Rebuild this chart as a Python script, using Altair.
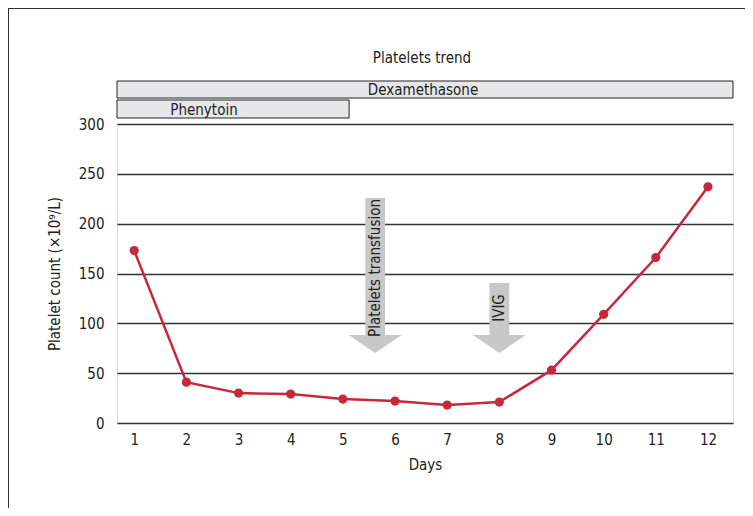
import altair as alt
import pandas as pd

days = [1, 2, 3, 4, 5, 6, 7, 8, 9, 10, 11, 12]
platelets = [173, 41, 30, 29, 24, 22, 18, 21, 53, 109, 166, 237]

drug_names = ["Dexamethasone", "Phenytoin"]
drug_start = [0.67, 0.67]
drug_end = [12.48, 5.12]

event_names = ["Platelets transfusion", "IVIG"]
event_day = [5.62, 8.0]

FONT = "DejaVu Sans Condensed, sans-serif"
FS = 15
RED = "#c8283c"
XDOM = [0.67, 12.48]

df = pd.DataFrame({"Day": days, "Platelets": platelets})
drugs = pd.DataFrame({"name": drug_names, "start": drug_start, "end": drug_end})
events = pd.DataFrame({"name": event_names, "day": event_day,
                       "lo": [d - 0.19 for d in event_day], "hi": [d + 0.19 for d in event_day]})

xscale = alt.Scale(domain=XDOM, nice=False, zero=False)
yscale = alt.Scale(domain=[0, 300], nice=False)

base = alt.Chart(df)

line = base.mark_line(color=RED, strokeWidth=2.5).encode(
    x=alt.X("Day:Q", scale=xscale,
            axis=alt.Axis(values=days, title="Days", grid=False, ticks=False, domain=False,
                          labelPadding=9, titlePadding=10, labelFontSize=FS, titleFontSize=FS,
                          labelFont=FONT, titleFont=FONT, labelColor="#222", titleColor="#222",
                          titleFontWeight="normal")),
    y=alt.Y("Platelets:Q", scale=yscale,
            axis=alt.Axis(values=[0, 50, 100, 150, 200, 250, 300],
                          title="Platelet count (×10⁹/L)", grid=True, gridColor="#333",
                          gridWidth=1.5, ticks=False, domain=False, labelPadding=13,
                          labelFontSize=FS, titleFontSize=FS, labelFont=FONT, titleFont=FONT,
                          labelColor="#222", titleColor="#222", titleFontWeight="normal",
                          titlePadding=16)),
)
pts = base.mark_circle(color=RED, size=85, opacity=1).encode(
    x=alt.X("Day:Q", scale=xscale), y=alt.Y("Platelets:Q", scale=yscale))


def drug_layers(name, y_top, y_bot, text_x):
    c = alt.Chart(drugs).transform_filter(alt.datum.name == name)
    bar = c.mark_rect(fill="#e6e7e8", stroke="#222", strokeWidth=1).encode(
        x=alt.X("start:Q", scale=xscale), x2="end:Q",
        y=alt.value(y_top), y2=alt.value(y_bot))
    txt = c.mark_text(font=FONT, fontSize=FS, color="#222", baseline="middle").encode(
        x=alt.value(text_x), y=alt.value((y_top + y_bot) / 2 + 0.5), text="name:N")
    return [bar, txt]


def event_layers(name, shaft_top, text_y):
    c = alt.Chart(events).transform_filter(alt.datum.name == name)
    shaft = c.mark_rect(fill="#c8c8c8").encode(
        x=alt.X("lo:Q", scale=xscale), x2="hi:Q",
        y=alt.value(shaft_top), y2=alt.value(212))
    head = c.mark_point(filled=True, fill="#c8c8c8", strokeWidth=0, opacity=1,
                        shape="M-1,-0.34L1,-0.34L0,0.34Z", size=2809).encode(
        x=alt.X("day:Q", scale=xscale), y=alt.value(220))
    txt = c.mark_text(font=FONT, fontSize=FS, color="#222", angle=270, baseline="middle").encode(
        x=alt.X("day:Q", scale=xscale), y=alt.value(text_y), text="name:N")
    return [shaft, head, txt]


title_text = alt.Chart(pd.DataFrame({"t": ["Platelets trend"]})).mark_text(
    font=FONT, fontSize=FS, color="#222", baseline="middle").encode(
    x=alt.value(305), y=alt.value(-66), text="t:N")

frame_v = alt.Chart(df).mark_rule(color="#333", strokeWidth=1).encode(
    x=alt.value(-108.5), y=alt.value(-116), y2=alt.value(400))
frame_h = alt.Chart(df).mark_rule(color="#333", strokeWidth=1).encode(
    x=alt.value(-109), x2=alt.value(640), y=alt.value(-115.5))

layers = [frame_v, frame_h]
layers += event_layers("Platelets transfusion", 74, 144)
layers += event_layers("IVIG", 159, 184)
layers += [line, pts]
layers += drug_layers("Dexamethasone", -43, -26, 306)
layers += drug_layers("Phenytoin", -24, -6, 87)
layers += [title_text]

chart = alt.layer(*layers).properties(
    width=616, height=299,
    autosize=alt.AutoSizeParams(type="none"),
    padding={"left": 109, "top": 116, "right": 12, "bottom": 85},
).configure_view(stroke=None).configure(background="white")

chart.save("out.html", embed_options={"renderer": "svg", "actions": False})
